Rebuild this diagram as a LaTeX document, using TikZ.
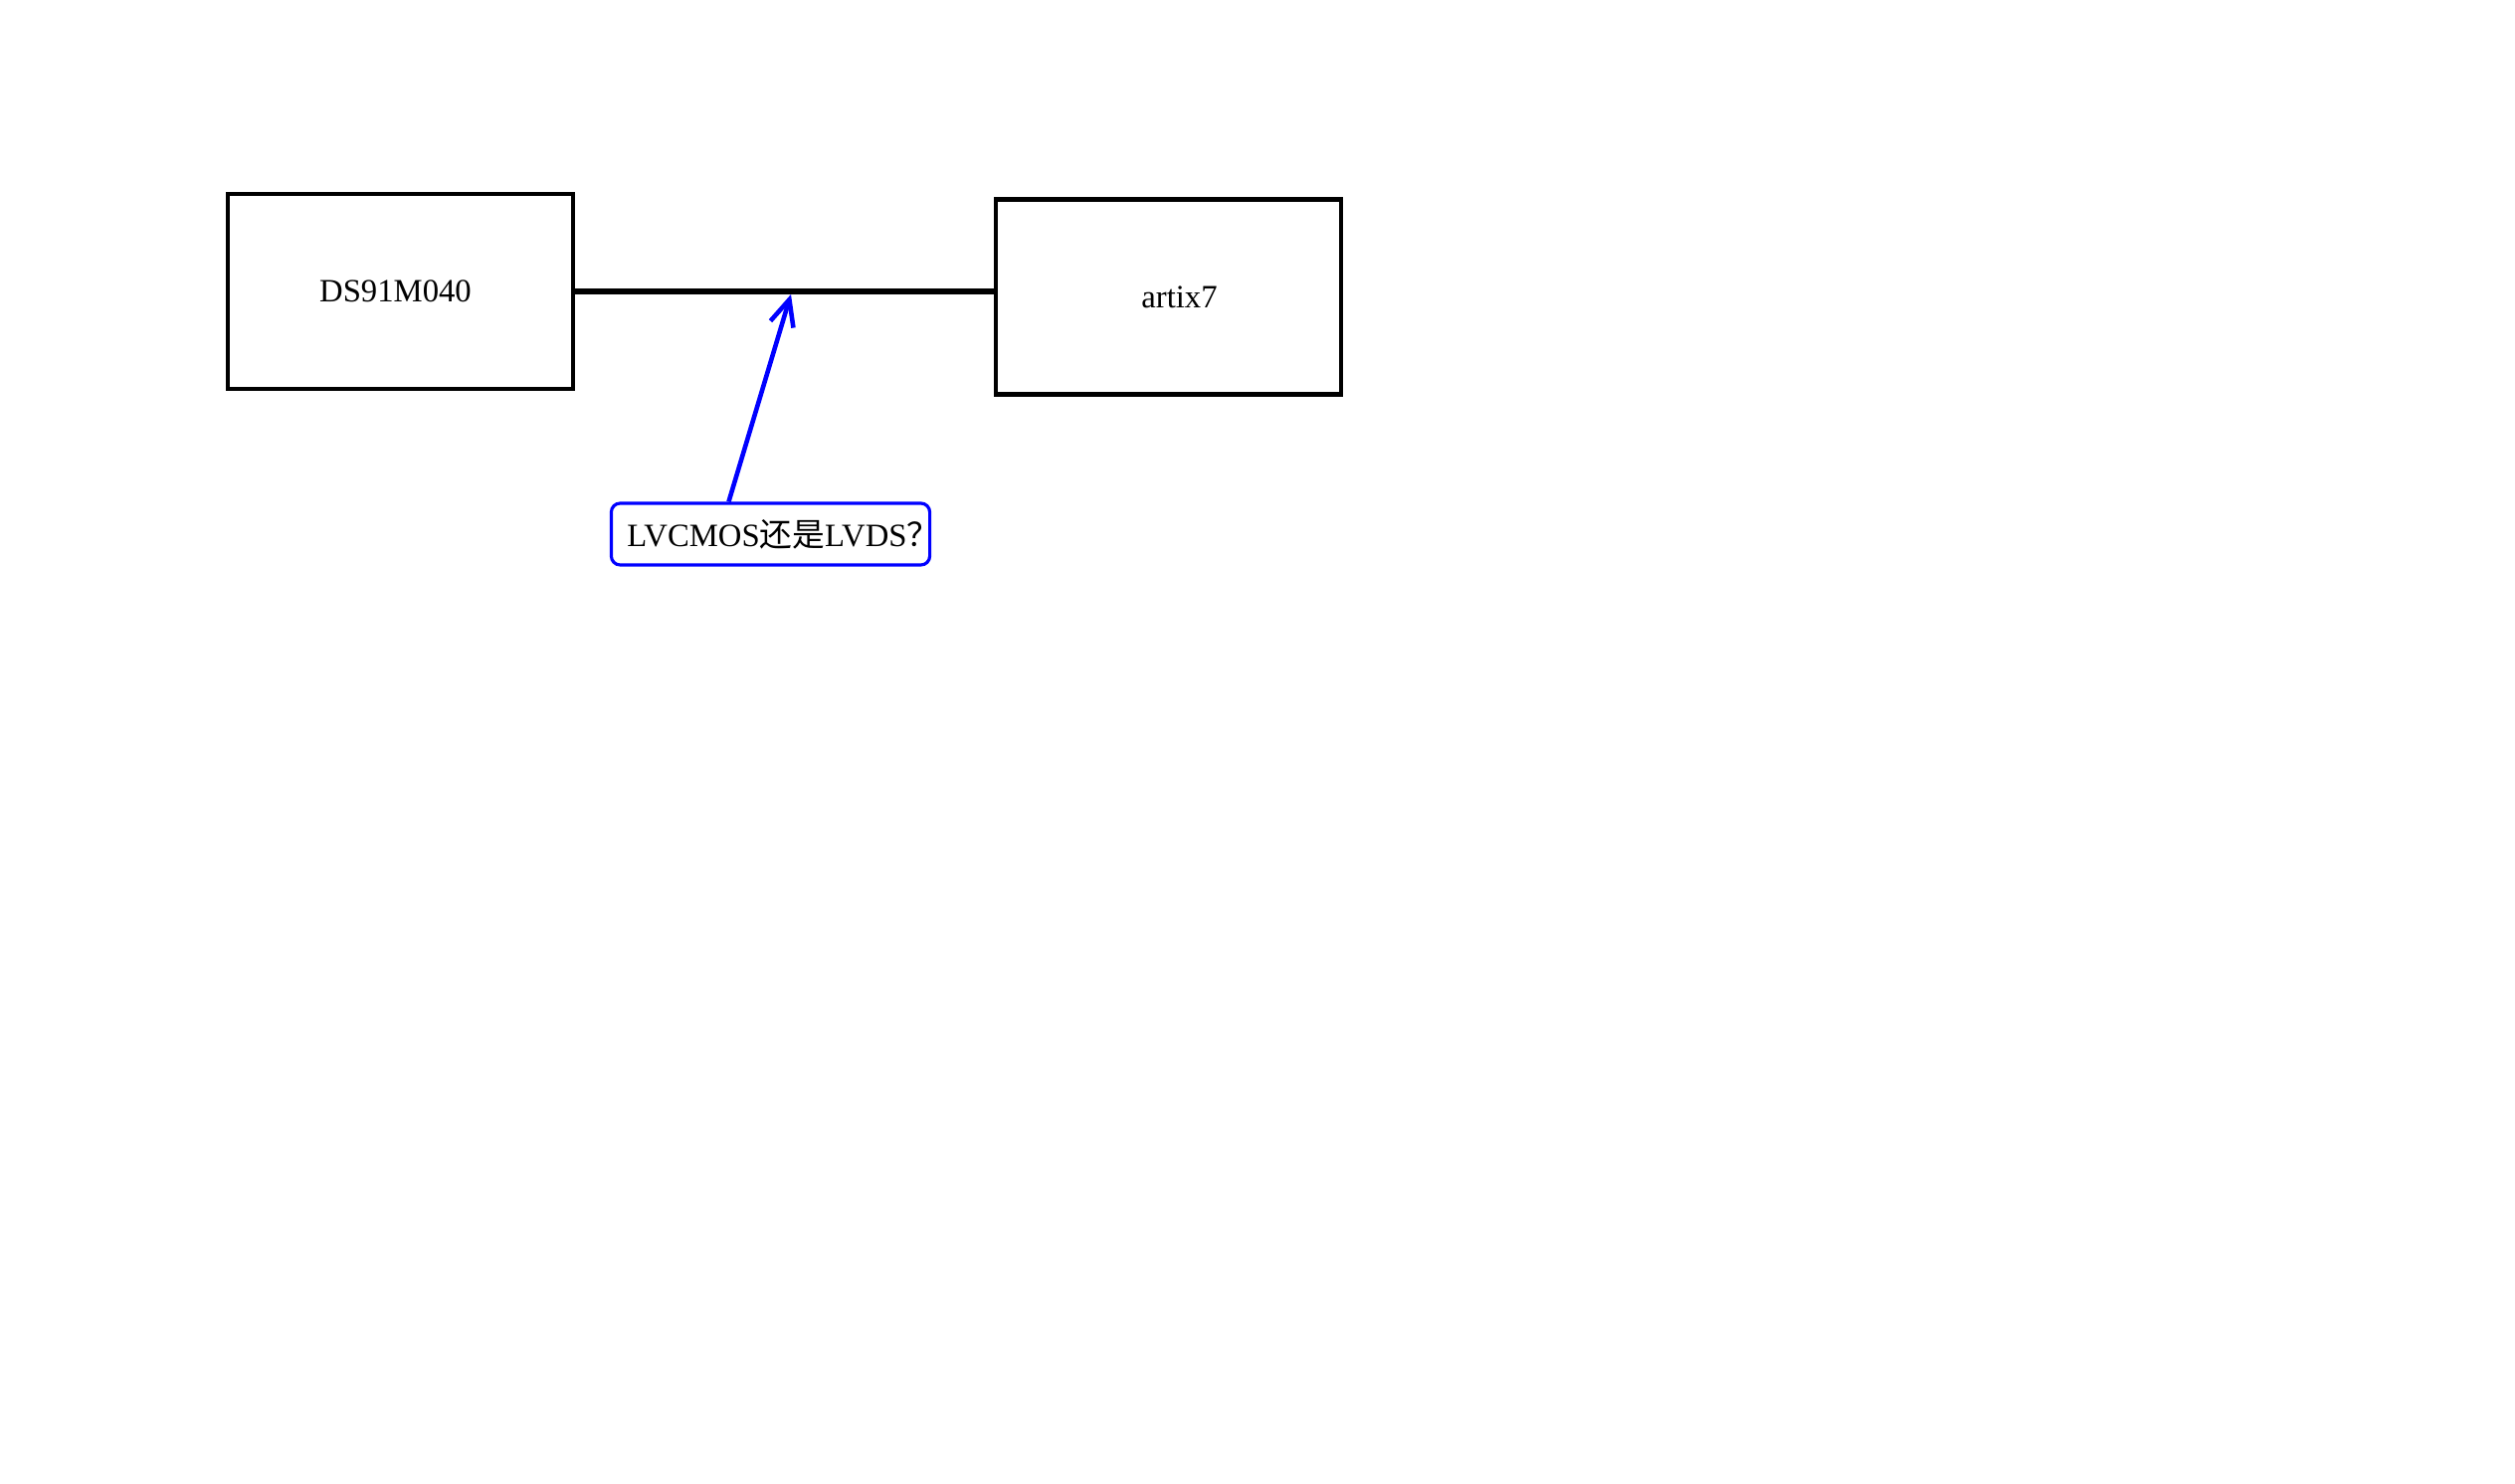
\documentclass[tikz,border=0pt]{standalone}
\usepackage{fontspec}
\setmainfont{Liberation Serif}
\newfontfamily\cjk{Noto Sans CJK SC}
\usetikzlibrary{arrows.meta}
\tikzset{%
  chip/.style={draw=black,line width=1.2pt,minimum width=3.47cm,minimum height=1.96cm,inner sep=0pt,font=\fontsize{9.3}{11}\selectfont},
  bus/.style={line width=1.8pt,draw=#1},
  bus/.default=black,
  note/.style={draw=#1,line width=0.9pt,rounded corners=0.09cm,minimum width=3.2cm,minimum height=0.62cm,inner sep=0pt,font=\fontsize{9.3}{11}\selectfont},
  note/.default=blue,
  pointer/.style={line width=1.3pt,draw=#1,-{Straight Barb[length=0.26cm,width=0.24cm,line width=1.3pt]}},
  pointer/.default=blue
}
\begin{document}
\begin{tikzpicture}[x=0.01cm,y=-0.01cm]

    % page size of the reference
    \useasboundingbox (0,0) rectangle (2528,1492);

    % the two chips
    \node[chip] (ds) at (402.5,293) {DS91M040\hspace*{0.1cm}};
    \node[chip] (fpga) at (1174.5,298.5) {\hspace*{0.22cm}artix7};

    % link between them
    \draw[bus] (ds.east) -- (ds.east -| fpga.west);

    % question about the link standard
    \node[note] (q) at (774.5,537) {\makebox[3.2cm][l]{\hspace*{0.16cm}LVCMOS{\cjk 还是}LVDS{\cjk ？}}};
    \coordinate (hit) at (795,296);
    \draw[pointer] ([xshift=-0.42cm]q.north) -- (hit);

\end{tikzpicture}
\end{document}
